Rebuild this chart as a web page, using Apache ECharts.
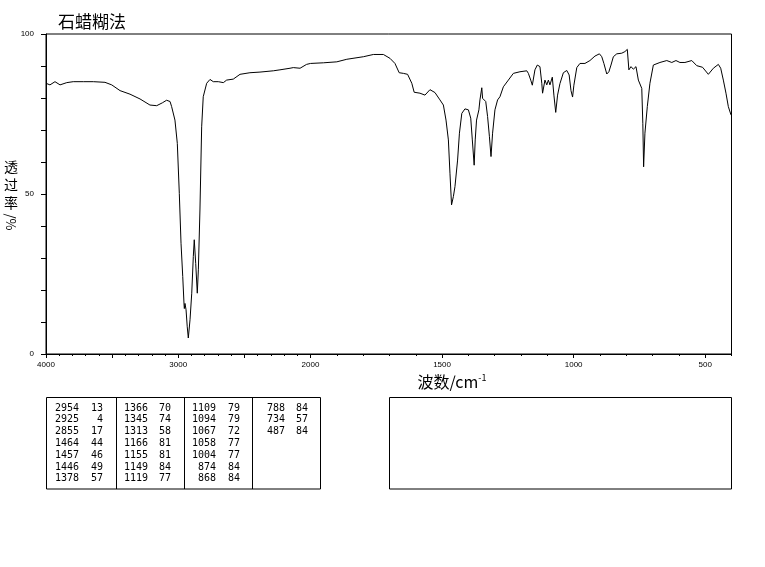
<!DOCTYPE html>
<html>
<head>
<meta charset="utf-8">
<script src="https://cdn.jsdelivr.net/npm/echarts@6/dist/echarts.min.js"></script>
<style>
html,body{margin:0;padding:0;background:#fff;}
#chart{width:765px;height:567px;}
</style>
</head>
<body>
<div id="chart"></div>
<script>
// 4000 - 2000 cm-1 (compressed scale)
const highWavenumbers = [4000,3970,3932,3894,3843,3794,3718,3642,3554,3503,3440,3365,3289,3214,3163,3120,3088,3062,3050,3025,3007,2992,2979,2966,2956,2954,2949,2941,2932,2924,2911,2898,2886,2879,2868,2856,2848,2836,2823,2811,2785,2760,2735,2697,2659,2634,2584,2533,2458,2382,2281,2231,2155,2130,2079,2030,2000];
const highTransmittance = [84.6,84.1,85.1,84.1,84.8,85.1,85.1,85.1,84.9,84.1,82.3,81.2,79.7,77.8,77.6,78.5,79.3,78.9,77.3,73.1,65.8,50.2,34.6,24.2,15.3,14.2,15.8,13.8,8.5,5.0,10.7,19.0,30.5,35.7,28.3,19.0,26.3,45.0,71.0,80.4,84.6,85.8,85.1,85.1,84.8,85.6,85.9,87.4,87.9,88.1,88.5,88.8,89.3,89.5,89.3,90.5,90.8];
// 2000 - 400 cm-1
const lowWavenumbers = [2000,1951,1900,1862,1799,1761,1723,1698,1679,1663,1647,1631,1615,1606,1584,1565,1546,1527,1508,1495,1485,1476,1470,1464,1457,1451,1446,1441,1434,1425,1413,1400,1391,1385,1378,1374,1369,1360,1356,1349,1346,1341,1334,1327,1320,1314,1308,1299,1289,1280,1267,1248,1229,1204,1178,1172,1163,1157,1147,1138,1128,1121,1118,1109,1102,1096,1090,1081,1075,1068,1061,1052,1039,1026,1017,1010,1004,999,988,976,957,938,919,902,893,885,874,866,858,849,836,817,805,796,790,782,773,763,754,748,741,737,734,729,720,710,697,672,646,627,611,596,577,551,532,510,488,469,450,441,431,421,412,403,400];
const lowTransmittance = [90.8,91.0,91.3,92.1,92.9,93.6,93.6,92.4,90.8,87.9,87.7,87.4,84.6,81.8,81.5,80.9,82.6,81.7,79.4,77.8,73.1,66.9,56.5,46.6,49.2,52.3,52.8,60.6,69.0,75.2,76.6,76.3,73.7,66.9,59.0,66.9,73.1,76.3,79.4,83.2,79.9,80.2,78.9,74.2,67.9,61.7,69.0,76.3,79.4,80.4,83.5,85.6,87.7,88.2,88.5,87.7,85.6,84.0,88.8,90.3,89.8,84.6,81.5,85.6,84.1,85.6,84.1,86.5,80.9,75.5,80.9,84.5,87.9,88.6,87.2,82.3,80.3,84.0,89.5,90.8,90.8,91.7,93.1,93.8,92.9,90.8,87.5,88.2,90.3,92.9,93.8,94.0,94.5,95.2,88.8,89.8,89.0,89.8,85.6,85.1,83.0,72.1,58.5,69.0,77.3,84.6,90.3,91.1,91.7,91.1,91.7,91.1,91.1,91.7,90.1,89.6,87.4,89.3,90.5,89.3,85.6,81.5,77.3,75.0,74.5];
// peak table
const peakWavenumbers = [2954,2925,2855,1464,1457,1446,1378,1366,1345,1313,1166,1155,1149,1119,1109,1094,1067,1058,1004,874,868,788,734,487];
const peakTransmittance = [13,4,17,44,46,49,57,70,74,58,81,81,84,77,79,79,72,77,77,84,84,84,57,84];
const yTickLabels = [0,50,100];
const xTickLabelsHigh = [4000,3000,2000];
const xTickLabelsLow = [1500,1000,500];
const majorTicksLow = [500,1000,1500,2000];
const titleText = '石蜡糊法';
const yName = ['透','过','率'];
const yUnit = '/%';
const xName = '波数/cm';
const xNameSup = '-1';

const chart = echarts.init(document.getElementById('chart'), null, {renderer:'canvas'});
const black = '#000';
const cjk = '"Noto Sans CJK SC", sans-serif';
const numFont = '"Liberation Sans", Arial, sans-serif';

const G_TOP = 34, G_H = 320, G_LEFT = 46, G_SPLIT = 310.5, G_RIGHT = 731.5;

function pairs(xs, ys){ return xs.map((x,i)=>[x, ys[i]]); }

// table graphics
const tableGraphics = [];
const colLeft = [46.5,116.5,184.5,252.5];
const wnRight = [79,148,216,285];
const valRight = [103,171,240,308];
tableGraphics.push({type:'rect', shape:{x:46.5,y:397.5,width:274,height:91.5}, style:{fill:'none',stroke:black,lineWidth:1}, silent:true});
for (let c=1;c<4;c++){
  tableGraphics.push({type:'line', shape:{x1:colLeft[c],y1:397.5,x2:colLeft[c],y2:489}, style:{stroke:black,lineWidth:1}, silent:true});
}
tableGraphics.push({type:'rect', shape:{x:389.5,y:397.5,width:342,height:91.5}, style:{fill:'none',stroke:black,lineWidth:1}, silent:true});
peakWavenumbers.forEach((w,i)=>{
  const c = Math.floor(i/7), r = i%7;
  const y = 408 + r*11.8;
  tableGraphics.push({type:'text', x:wnRight[c], y:y, style:{text:String(w), fill:black, font:'10px "DejaVu Sans Mono", monospace', textAlign:'right', textVerticalAlign:'middle'}, silent:true});
  tableGraphics.push({type:'text', x:valRight[c], y:y, style:{text:String(peakTransmittance[i]), fill:black, font:'10px "DejaVu Sans Mono", monospace', textAlign:'right', textVerticalAlign:'middle'}, silent:true});
});

const option = {
  backgroundColor:'#fff',
  animation:false,
  title:{text:titleText, left:53, top:8, textStyle:{fontFamily:cjk, fontSize:17, fontWeight:'normal', color:black}},
  grid:[
    {left:G_LEFT, top:G_TOP, width:G_RIGHT-G_LEFT, height:G_H, show:true, borderColor:black, borderWidth:1, backgroundColor:'transparent', containLabel:false, outerBoundsMode:'none'},
    {left:G_LEFT, top:G_TOP, width:G_SPLIT-G_LEFT, height:G_H, containLabel:false, outerBoundsMode:'none'},
    {left:G_SPLIT, top:G_TOP, width:G_RIGHT-G_SPLIT, height:G_H, containLabel:false, outerBoundsMode:'none'}
  ],
  xAxis:[
    {gridIndex:0, type:'value', min:0, max:1, show:false},
    {gridIndex:1, type:'value', min:2000, max:4000, inverse:true, interval:100, position:'bottom',
      axisLine:{show:true, lineStyle:{color:black, width:1}},
      axisTick:{show:true, length:2, inside:false, lineStyle:{color:black}},
      axisLabel:{show:true, margin:7, fontSize:8, fontFamily:numFont, color:black,
        formatter:v => xTickLabelsHigh.indexOf(v) >= 0 ? String(v) : '', showMinLabel:true, showMaxLabel:true},
      splitLine:{show:false}},
    {gridIndex:1, type:'value', min:2000, max:4000, inverse:true, interval:500, position:'bottom',
      axisLine:{show:false}, axisTick:{show:true, length:4, lineStyle:{color:black}},
      axisLabel:{show:false}, splitLine:{show:false}},
    {gridIndex:2, type:'value', min:400, max:2000, inverse:true, interval:100, position:'bottom',
      axisLine:{show:true, lineStyle:{color:black, width:1}},
      axisTick:{show:true, length:2, lineStyle:{color:black}},
      axisLabel:{show:true, margin:7, fontSize:8, fontFamily:numFont, color:black,
        formatter:v => xTickLabelsLow.indexOf(v) >= 0 ? String(v) : ''},
      splitLine:{show:false}},
    {gridIndex:2, type:'value', min:400, max:2000, inverse:true, interval:100, position:'bottom',
      axisLine:{show:false}, axisTick:{show:true, length:4, customValues:majorTicksLow, lineStyle:{color:black}},
      axisLabel:{show:false}, splitLine:{show:false}}
  ],
  yAxis:[
    {gridIndex:0, type:'value', min:0, max:100, interval:10,
      axisLine:{show:true, lineStyle:{color:black, width:1}},
      axisTick:{show:true, length:5, lineStyle:{color:black}},
      axisLabel:{show:true, margin:12, fontSize:8, fontFamily:numFont, color:black,
        formatter:v => yTickLabels.indexOf(v) >= 0 ? String(v) : ''},
      splitLine:{show:false}},
    {gridIndex:1, type:'value', min:0, max:100, show:false},
    {gridIndex:2, type:'value', min:0, max:100, show:false}
  ],
  series:[
    {type:'line', xAxisIndex:1, yAxisIndex:1, data:pairs(highWavenumbers, highTransmittance), showSymbol:false, symbol:'none',
      lineStyle:{color:black, width:1}, silent:true},
    {type:'line', xAxisIndex:3, yAxisIndex:2, data:pairs(lowWavenumbers, lowTransmittance), showSymbol:false, symbol:'none',
      lineStyle:{color:black, width:1}, silent:true}
  ],
  graphic:[
    {type:'text', x:11, y:185, style:{text:yName.join('\n'), fill:black, font:'14px '+cjk, textAlign:'center', textVerticalAlign:'middle', lineHeight:18}, silent:true},
    {type:'text', x:11, y:222, rotation:-Math.PI/2, style:{text:yUnit, fill:black, font:'13px '+cjk, textAlign:'center', textVerticalAlign:'middle'}, silent:true},
    {type:'text', x:452, y:382, style:{
      rich:{m:{fontFamily:cjk, fontSize:16, fill:black, color:black}, s:{fontFamily:cjk, fontSize:9, color:black, fill:black, verticalAlign:'top', padding:[0,0,8,0]}},
      text:'{m|'+xName+'}{s|'+xNameSup+'}', textAlign:'center', textVerticalAlign:'middle'}, silent:true}
  ].concat(tableGraphics)
};
chart.setOption(option);
</script>
</body>
</html>
